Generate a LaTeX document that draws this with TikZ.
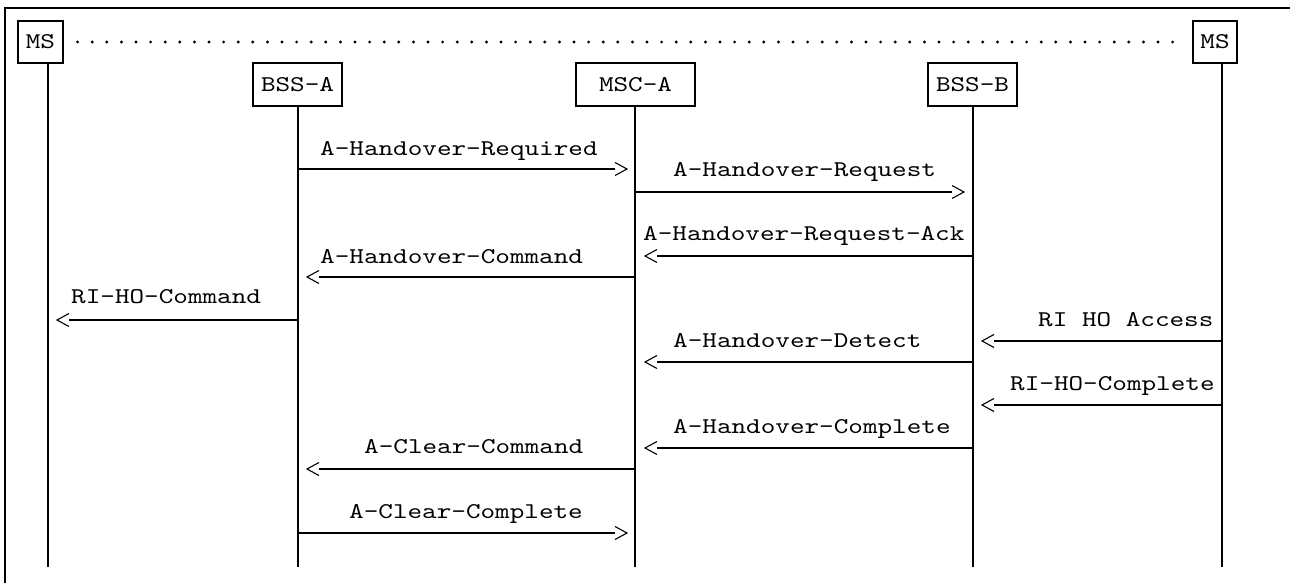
\documentclass[tikz,border=0pt]{standalone}
\usepackage{fontspec}
\newfontfamily\cour[FakeStretch=1.236]{lmmono10-regular.otf}
\begin{document}
\begin{tikzpicture}[x=1pt,y=-1pt,
  box/.style={draw,line width=1.2pt,inner sep=0pt,font=\cour\fontsize{22.5}{27}\selectfont},
  life/.style={line width=1.3pt},
  msgline/.style={line width=1.2pt},
  lbl/.style={inner sep=0pt,anchor=base west,font=\cour\fontsize{22.5}{27}\selectfont},
  frame/.style={line width=2.2pt},
  dotline/.style={line width=3.2pt,line cap=round,dash pattern=on 0pt off 14.6pt},
  rhead/.pic={\draw[line width=1.1pt] (-12,-6.5) -- (0,0) -- (-12,6.5);},
  lhead/.pic={\draw[line width=1.1pt] (12,-6.5) -- (0,0) -- (12,6.5);}
]
\useasboundingbox (0,0) rectangle (1290,583);
% frame (left and top only)
\draw[frame] (5,583) -- (5,8) -- (1290,8);

% heads
\node[box,minimum width=45pt,minimum height=42pt] (ms1) at (40.5,42) {MS};
\node[box,minimum width=89pt,minimum height=43pt] (bssa) at (297.5,84.5) {BSS-A};
\node[box,minimum width=119pt,minimum height=43pt] (msca) at (635.5,84.5) {MSC-A};
\node[box,minimum width=89pt,minimum height=43pt] (bssb) at (972.5,84.5) {BSS-B};
\node[box,minimum width=44pt,minimum height=42pt] (ms2) at (1215,42) {MS};

% dotted line between the two MS
\draw[dotline] ([xshift=14pt]ms1.east) -- ([xshift=-14pt]ms2.west);

% lifelines
\coordinate (lms1) at (48,567);
\coordinate (lbssa) at (298,567);
\coordinate (lmsca) at (635,567);
\coordinate (lbssb) at (973,567);
\coordinate (lms2) at (1222,567);
\draw[life] (lms1 |- ms1.south) -- (lms1);
\draw[life] (lbssa |- bssa.south) -- (lbssa);
\draw[life] (lmsca |- msca.south) -- (lmsca);
\draw[life] (lbssb |- bssb.south) -- (lbssb);
\draw[life] (lms2 |- ms2.south) -- (lms2);

% 1 A-Handover-Required
\coordinate (t1) at (627,169);
\draw[msgline] (lbssa |- t1) -- ([xshift=-12pt]t1);
\pic at (t1) {rhead};
\node[lbl] (n1) at (320,156) {A-Handover-Required};

% 2 A-Handover-Request
\coordinate (t2) at (964,192);
\draw[msgline] (lmsca |- t2) -- ([xshift=-12pt]t2);
\pic at (t2) {rhead};
\node[lbl] (n2) at (673,176) {A-Handover-Request};

% 3 A-Handover-Request-Ack
\coordinate (t3) at (645,256);
\draw[msgline] (lbssb |- t3) -- ([xshift=12pt]t3);
\pic at (t3) {lhead};
\node[lbl] (n3) at (643,240) {A-Handover-Request-Ack};

% 4 A-Handover-Command
\coordinate (t4) at (307,277);
\draw[msgline] (lmsca |- t4) -- ([xshift=12pt]t4);
\pic at (t4) {lhead};
\node[lbl] (n4) at (320,263) {A-Handover-Command};

% 5 RI-HO-Command
\coordinate (t5) at (57,320);
\draw[msgline] (lbssa |- t5) -- ([xshift=12pt]t5);
\pic at (t5) {lhead};
\node[lbl] (n5) at (71,303) {RI-HO-Command};

% 6 RI HO Access
\coordinate (t6) at (982,341);
\draw[msgline] (lms2 |- t6) -- ([xshift=12pt]t6);
\pic at (t6) {lhead};
\node[lbl] (n6) at (1038,326) {RI HO Access};

% 7 A-Handover-Detect
\coordinate (t7) at (645,362);
\draw[msgline] (lbssb |- t7) -- ([xshift=12pt]t7);
\pic at (t7) {lhead};
\node[lbl] (n7) at (673,347) {A-Handover-Detect};

% 8 RI-HO-Complete
\coordinate (t8) at (982,405);
\draw[msgline] (lms2 |- t8) -- ([xshift=12pt]t8);
\pic at (t8) {lhead};
\node[lbl] (n8) at (1010,390) {RI-HO-Complete};

% 9 A-Handover-Complete
\coordinate (t9) at (645,448);
\draw[msgline] (lbssb |- t9) -- ([xshift=12pt]t9);
\pic at (t9) {lhead};
\node[lbl] (n9) at (673,433) {A-Handover-Complete};

% 10 A-Clear-Command
\coordinate (t10) at (307,469);
\draw[msgline] (lmsca |- t10) -- ([xshift=12pt]t10);
\pic at (t10) {lhead};
\node[lbl] (n10) at (364,453) {A-Clear-Command};

% 11 A-Clear-Complete
\coordinate (t11) at (627,533);
\draw[msgline] (lbssa |- t11) -- ([xshift=-12pt]t11);
\pic at (t11) {rhead};
\node[lbl] (n11) at (349,518) {A-Clear-Complete};
\end{tikzpicture}
\end{document}
